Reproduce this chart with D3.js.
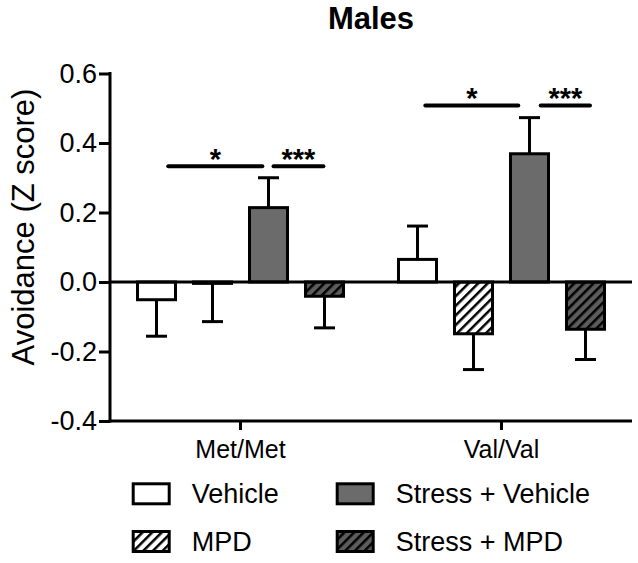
<!DOCTYPE html>
<html>
<head>
<meta charset="utf-8">
<script src="https://cdn.jsdelivr.net/npm/d3@7/dist/d3.min.js"></script>
<style>
  html, body { margin: 0; padding: 0; background: #fff; }
  svg { display: block; }
  text { font-family: "Liberation Sans", Arial, Helvetica, sans-serif; fill: #000; }
</style>
</head>
<body>
<svg id="chart" width="638" height="563"></svg>
<script>
// ---- data ----
const groups = ["Met/Met", "Val/Val"];
const series = ["Vehicle", "MPD", "Stress + Vehicle", "Stress + MPD"];
const metMeans = [-0.051, -0.004, 0.214, -0.041];
const metSem   = [0.105, 0.110, 0.086, 0.091];
const valMeans = [0.065, -0.149, 0.369, -0.136];
const valSem   = [0.096, 0.103, 0.104, 0.087];
const yTicks = [-0.4, -0.2, 0.0, 0.2, 0.4, 0.6];
// significance brackets: group, start/end (in bar-index units), height (value), label
const sigGroup = ["Met/Met", "Met/Met", "Val/Val", "Val/Val"];
const sigFrom  = [0.21, 2.09, 0.14, 2.20];
const sigTo    = [1.89, 2.98, 1.80, 3.08];
const sigY     = [0.333, 0.333, 0.508, 0.508];
const sigLabel = ["*", "***", "*", "***"];

const chartTitle = "Males";
const yLabel = "Avoidance (Z score)";

// ---- layout ----
const svg = d3.select("#chart");
const pLeft = 110, pRight = 632, pTop = 73.5, pBottom = 421;

const x = d3.scaleBand().domain(groups).range([pLeft, pRight]).padding(0);
const inner = d3.scaleBand().domain(series)
  .range([-112, 112]).paddingInner(18 / 56).paddingOuter(0.1607);
const y = d3.scaleLinear().domain([-0.4, 0.6]).range([pBottom, pTop]);

const fills = {
  "Vehicle": "#ffffff",
  "MPD": "url(#hatchWhite)",
  "Stress + Vehicle": "#6b6b6b",
  "Stress + MPD": "url(#hatchGray)"
};

// patterns
const defs = svg.append("defs");
function hatch(id, bg) {
  const p = defs.append("pattern").attr("id", id)
    .attr("patternUnits", "userSpaceOnUse")
    .attr("width", 6.8).attr("height", 6.8)
    .attr("patternTransform", "rotate(45)");
  p.append("rect").attr("width", 6.8).attr("height", 6.8).attr("fill", bg);
  p.append("rect").attr("x", 0).attr("width", 2.5).attr("height", 6.8).attr("fill", "#000");
}
hatch("hatchWhite", "#ffffff");
hatch("hatchGray", "#5c5c5c");

// build table
const rows = [];
groups.forEach((g, gi) => {
  const m = gi === 0 ? metMeans : valMeans;
  const s = gi === 0 ? metSem : valSem;
  series.forEach((ser, si) => rows.push({ group: g, series: ser, mean: m[si], sem: s[si] }));
});

const cx = d => x(d.group) + x.bandwidth() / 2 + inner(d.series) + inner.bandwidth() / 2;

// bars
svg.append("g").selectAll("rect").data(rows).join("rect")
  .attr("x", d => cx(d) - inner.bandwidth() / 2)
  .attr("width", inner.bandwidth())
  .attr("y", d => y(Math.max(0, d.mean)))
  .attr("height", d => Math.abs(y(d.mean) - y(0)))
  .attr("fill", d => fills[d.series])
  .attr("stroke", "#000").attr("stroke-width", 3);

// error bars (one-sided, away from zero)
const eb = svg.append("g").attr("stroke", "#000").attr("stroke-width", 3);
rows.forEach(d => {
  const end = d.mean >= 0 ? d.mean + d.sem : d.mean - d.sem;
  eb.append("line").attr("x1", cx(d)).attr("x2", cx(d))
    .attr("y1", y(d.mean)).attr("y2", y(end));
  eb.append("line").attr("x1", cx(d) - 10.5).attr("x2", cx(d) + 10.5)
    .attr("y1", y(end)).attr("y2", y(end));
});

// zero line
svg.append("line").attr("x1", pLeft).attr("x2", pRight)
  .attr("y1", y(0)).attr("y2", y(0))
  .attr("stroke", "#000").attr("stroke-width", 3);

// y axis
const yAxis = d3.axisLeft(y).tickValues(yTicks)
  .tickFormat(v => d3.format(".1f")(v).replace("\u2212", "-"))
  .tickSize(11).tickSizeOuter(0).tickPadding(2);
const gy = svg.append("g").attr("transform", `translate(${pLeft},0)`).call(yAxis);
gy.select(".domain").attr("stroke-width", 3).attr("d", `M0,${pBottom + 1.5}V${pTop - 1.5}`);
gy.selectAll(".tick line").attr("stroke-width", 3);
gy.selectAll(".tick text").style("font-size", "27px")
  .style("font-family", "'Liberation Sans', Arial, sans-serif");

// x axis
const xAxis = d3.axisBottom(x).tickSize(9).tickSizeOuter(0).tickPadding(6);
const gx = svg.append("g").attr("transform", `translate(0,${pBottom})`).call(xAxis);
gx.select(".domain").attr("stroke-width", 3).attr("d", `M${pLeft - 1.5},0H${pRight}`);
gx.selectAll(".tick line").attr("stroke-width", 3);
gx.selectAll(".tick text").style("font-size", "25px")
  .style("font-family", "'Liberation Sans', Arial, sans-serif")
  .attr("dy", null).attr("y", 36.5);

// significance brackets
const sg = svg.append("g");
const step = inner.step();
sigGroup.forEach((g, i) => {
  const base = x(g) + x.bandwidth() / 2 + inner(series[0]) + inner.bandwidth() / 2;
  const x1 = base + sigFrom[i] * step, x2 = base + sigTo[i] * step;
  sg.append("line").attr("x1", x1).attr("x2", x2)
    .attr("y1", y(sigY[i])).attr("y2", y(sigY[i]))
    .attr("stroke", "#000").attr("stroke-width", 4).attr("stroke-linecap", "round");
  sg.append("text").attr("x", (x1 + x2) / 2).attr("y", y(sigY[i]) + 3)
    .attr("text-anchor", "middle").style("font-size", "29px").style("font-weight", "bold")
    .text(sigLabel[i]);
});

// title
svg.append("text").attr("x", (pLeft + pRight) / 2).attr("y", 28.5)
  .attr("text-anchor", "middle").style("font-size", "31px").style("font-weight", "bold")
  .text(chartTitle);

// y label
svg.append("text").attr("transform", "translate(34,227) rotate(-90)")
  .attr("text-anchor", "middle").style("font-size", "31px")
  .text(yLabel);

// legend
const legX = [131.7, 335.7], legY = [482.3, 530];
const lg = svg.append("g");
series.forEach((s, i) => {
  const col = i < 2 ? 0 : 1, row = i % 2;
  const bx = legX[col], by = legY[row];
  lg.append("rect").attr("x", bx + 1.5).attr("y", by + 1.5).attr("width", 36).attr("height", 20)
    .attr("fill", fills[s]).attr("stroke", "#000").attr("stroke-width", 3);
  lg.append("text").attr("x", bx + 60).attr("y", by + 20.5)
    .style("font-size", "27px").text(s);
});
</script>
</body>
</html>
